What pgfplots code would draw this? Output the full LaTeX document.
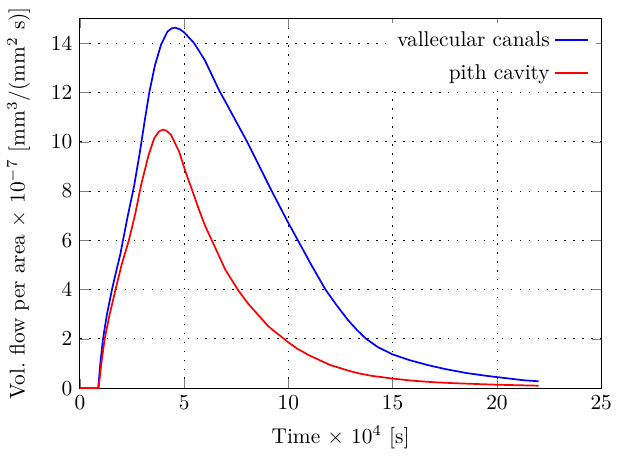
\documentclass[border=0pt]{standalone}
\usepackage{pgfplots}
\pgfplotsset{compat=1.18}
\begin{document}
\begin{tikzpicture}
\begin{axis}[
    scale only axis,
    width=244pt,
    height=173pt,
    xmin=0, xmax=25,
    ymin=0, ymax=15,
    xtick={0,5,10,15,20,25},
    ytick={0,2,4,6,8,10,12,14},
    grid=major,
    major grid style={black, dash pattern=on 0.8pt off 3.4pt},
    xlabel={Time $\times$ 10$^4$ [s]},
    ylabel={Vol.\ flow per area $\times$ 10$^{-7}$ [mm$^3$/(mm$^2$ s)]},
    xlabel style={yshift=-1pt},
    ylabel style={yshift=3pt},
    legend style={draw=none, fill=white, at={(0.99,0.99)}, anchor=north east,
        row sep=3pt},
    legend cell align=right,
    legend plot pos=right,
    legend image code/.code={\draw[#1] (0cm,0cm) -- (0.55cm,0cm);},
]
\addplot[blue, line width=0.8pt] coordinates {
    (0,0) (0.88,0) (0.98,1.0) (1.11,2.0) (1.3,3.0) (1.54,4.0) (1.75,4.77)
    (1.94,5.43) (2.06,5.96) (2.3,7.0) (2.6,8.2) (2.86,9.48) (3.1,10.8)
    (3.33,12.0) (3.6,13.1) (3.89,13.93) (4.2,14.47) (4.4,14.6) (4.57,14.63)
    (4.8,14.56) (5.0,14.44) (5.48,14.0) (6.0,13.3) (6.67,12.1) (7.06,11.5)
    (8.02,10.0) (9.2,8.0) (10,6.7) (10.43,6.04) (11.1,5.0) (11.78,4.0)
    (12.3,3.38) (12.86,2.76) (13.3,2.35) (13.73,2.0) (14.3,1.66) (15,1.37)
    (15.8,1.14) (16.67,0.94) (17.5,0.78) (18.5,0.62) (19.5,0.5) (20.5,0.4)
    (21.3,0.32) (22,0.28)
};
\addlegendentry{vallecular canals}
\addplot[red, line width=0.8pt] coordinates {
    (0,0) (0.9,0) (1.03,1.0) (1.19,2.0) (1.43,3.0) (1.71,4.0) (2.0,5.0)
    (2.35,6.0) (2.65,7.05) (2.94,8.26) (3.3,9.47) (3.57,10.15) (3.8,10.42)
    (3.97,10.49) (4.15,10.45) (4.37,10.28) (4.76,9.6) (5.08,8.75) (5.4,8.0)
    (5.71,7.25) (6.0,6.6) (6.35,5.96) (6.98,4.8) (7.62,3.94) (8.1,3.4)
    (9.05,2.5) (10,1.86) (10.43,1.6) (11,1.33) (12,0.94) (13,0.68)
    (13.44,0.59) (14,0.5) (15,0.39) (16,0.3) (17,0.24) (18,0.2) (19,0.17)
    (20,0.14) (21,0.12) (22,0.1)
};
\addlegendentry{pith cavity}
\end{axis}
\end{tikzpicture}
\end{document}
